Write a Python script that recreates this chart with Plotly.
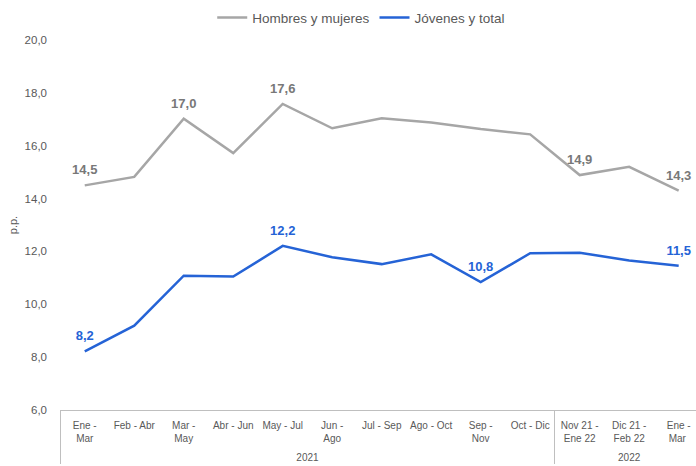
import plotly.graph_objects as go

years = ["2021"] * 10 + ["2022"] * 3
periods = ["Ene -<br>Mar<br><span style='font-size:3px'>\u00a0</span>", "Feb - Abr", "Mar -<br>May",
           "Abr - Jun", "May - Jul", "Jun -<br>Ago", "Jul - Sep", "Ago - Oct", "Sep -<br>Nov",
           "Oct - Dic", "Nov 21 -<br>Ene 22", "Dic 21 -<br>Feb 22", "Ene -<br>Mar\u00a0"]
hombres_mujeres = [14.5, 14.82, 17.02, 15.72, 17.58, 16.66, 17.04, 16.88, 16.63, 16.43, 14.89, 15.20, 14.3]
jovenes_total = [8.22, 9.19, 11.08, 11.05, 12.21, 11.78, 11.52, 11.89, 10.84, 11.93, 11.95, 11.66, 11.46]
label_idx_hm = [0, 2, 4, 10, 12]
label_idx_jt = [0, 4, 8, 12]

def fmt(v):
    return f"{v:.1f}".replace(".", ",")

text_hm = [fmt(v) if i in label_idx_hm else "" for i, v in enumerate(hombres_mujeres)]
text_jt = [fmt(v) if i in label_idx_jt else "" for i, v in enumerate(jovenes_total)]

gray = "#A6A6A6"
blue = "#2563D6"
x = [years, periods]

fig = go.Figure()
for name, vals, txt, col, tcol in [("Hombres y mujeres", hombres_mujeres, text_hm, gray, "#787878"),
                                    ("Jóvenes y total", jovenes_total, text_jt, blue, blue)]:
    fig.add_trace(go.Scatter(x=x, y=vals, mode="lines+markers+text", name=name,
                             line=dict(color=col, width=2.5),
                             marker=dict(size=11, color="rgba(0,0,0,0)"),
                             text=txt, textposition="top center", cliponaxis=False, hoverinfo="skip",
                             textfont=dict(color=tcol, size=13, family="Liberation Sans", weight="bold")))

fig.update_layout(
    width=696, height=466,
    margin=dict(l=60, r=0, t=40, b=56, autoexpand=False),
    paper_bgcolor="white", plot_bgcolor="white",
    font=dict(family="Liberation Sans", size=11, color="#595959"),
    legend=dict(orientation="h", x=0.519, xanchor="center", xref="container",
                y=1.06, yanchor="middle", yref="paper",
                font=dict(size=13.5, color="#595959")),
    separators=",.",
)
fig.update_xaxes(type="multicategory", range=[-0.5, 12.35], showline=True, linecolor="#BFBFBF",
                 linewidth=1, showgrid=False, ticks="", ticklabelstandoff=6, tickangle=0,
                 automargin=False, dividercolor="#BFBFBF", dividerwidth=1,
                 tickfont=dict(size=10, color="#595959"))
fig.update_yaxes(range=[6, 20], dtick=2, tickformat=".1f", automargin=False,
                 showgrid=False, zeroline=False, showline=False, ticklabelstandoff=12,
                 title=dict(text="p.p.", font=dict(size=11, color="#595959"), standoff=4),
                 tickfont=dict(size=11.5, color="#595959"))
fig.write_html("out.html", config={"displayModeBar": False},
               post_script="document.body.style.margin='0';document.body.style.overflow='hidden';")
